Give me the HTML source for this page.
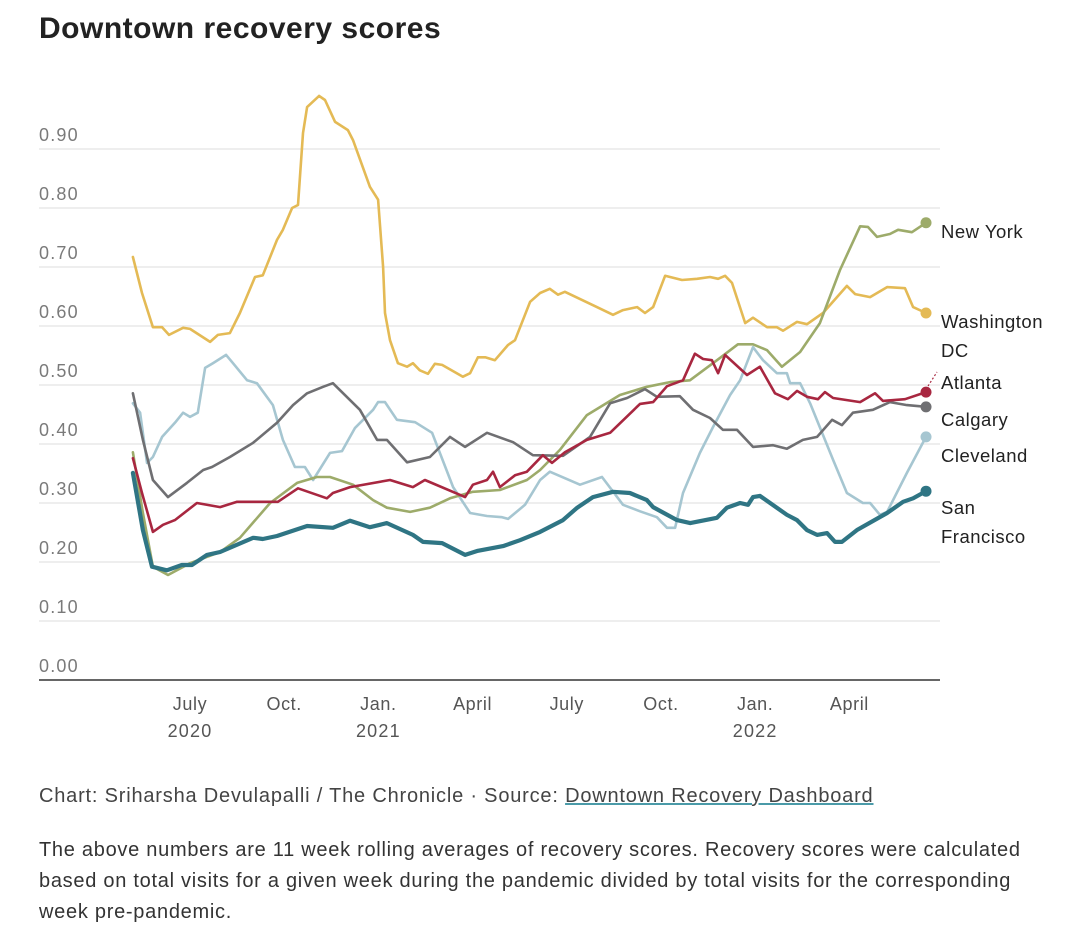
<!DOCTYPE html>
<html><head><meta charset="utf-8">
<style>
body{margin:0;background:#fff;width:1080px;height:952px;overflow:hidden;font-family:"Liberation Sans",sans-serif;}
svg{position:absolute;left:0;top:0}
.foot{position:absolute;left:39px;color:#333;font-size:20px;line-height:31px;white-space:nowrap;}
</style></head>
<body>
<svg id="chart" width="1080" height="952">
<text x="39" y="38" font-size="30" font-weight="bold" fill="#222" letter-spacing="0.5">Downtown recovery scores</text>
<g id="grid"></g>
<g id="xaxis"></g>
<g id="lines"></g>
<g id="labels"></g>
</svg>
<div class="foot" style="top:781px;color:#444;letter-spacing:0.8px">Chart: Sriharsha Devulapalli / The Chronicle · Source: <span style="text-decoration:underline;text-decoration-color:#4a9aa8">Downtown Recovery Dashboard</span></div>
<div class="foot" style="top:835px;letter-spacing:0.72px">The above numbers are 11 week rolling averages of recovery scores. Recovery scores were calculated<br>based on total visits for a given week during the pandemic divided by total visits for the corresponding<br>week pre-pandemic.</div>
<script>
// x values are months since Jan 1 2020
const yTicks=[0,0.1,0.2,0.3,0.4,0.5,0.6,0.7,0.8,0.9];
const xTickMonths=[6,9,12,15,18,21,24,27];
const xTickLabels=["July","Oct.","Jan.","April","July","Oct.","Jan.","April"];
const xTickYears=["2020","","2021","","","","2022",""];

const dcDates=[4.18,4.47,4.82,5.11,5.33,5.78,6.0,6.64,6.89,7.27,7.59,8.07,8.32,8.77,8.96,9.25,9.44,9.60,9.73,10.11,10.30,10.62,11.03,11.19,11.73,11.99,12.15,12.21,12.37,12.62,12.91,13.10,13.32,13.58,13.80,14.03,14.69,14.92,15.17,15.40,15.71,16.13,16.35,16.83,17.15,17.46,17.72,17.94,18.96,19.47,19.79,20.24,20.49,20.75,21.13,21.67,22.15,22.56,22.82,23.04,23.26,23.68,23.93,24.38,24.69,24.89,25.33,25.65,26.16,26.92,27.18,27.66,28.20,28.77,29.03,29.44];
const dcValues=[0.717,0.656,0.598,0.598,0.585,0.597,0.595,0.573,0.585,0.588,0.622,0.683,0.686,0.746,0.763,0.800,0.805,0.927,0.971,0.990,0.983,0.946,0.932,0.915,0.836,0.814,0.700,0.622,0.576,0.537,0.531,0.537,0.525,0.519,0.536,0.534,0.514,0.520,0.547,0.547,0.542,0.568,0.576,0.641,0.656,0.663,0.653,0.658,0.632,0.619,0.627,0.632,0.622,0.632,0.685,0.678,0.680,0.683,0.680,0.685,0.673,0.605,0.614,0.598,0.598,0.592,0.607,0.603,0.622,0.668,0.654,0.649,0.666,0.664,0.632,0.622];

const sfDates=[4.18,4.50,4.79,5.26,5.74,6.06,6.54,6.96,8.01,8.32,8.77,9.73,10.55,11.10,11.73,12.27,13.10,13.42,14.03,14.76,15.17,15.97,16.51,17.15,17.88,18.33,18.83,19.47,20.01,20.55,20.75,21.51,21.93,22.78,23.10,23.52,23.77,23.93,24.15,25.01,25.33,25.65,25.97,26.29,26.54,26.76,27.24,28.20,28.71,29.03,29.44];
const sfValues=[0.351,0.254,0.192,0.186,0.195,0.195,0.212,0.217,0.241,0.239,0.244,0.261,0.258,0.270,0.259,0.266,0.246,0.234,0.232,0.212,0.219,0.227,0.237,0.251,0.271,0.292,0.310,0.319,0.317,0.305,0.293,0.271,0.266,0.275,0.292,0.300,0.297,0.310,0.312,0.280,0.271,0.254,0.246,0.249,0.234,0.234,0.254,0.283,0.302,0.308,0.320];

const calDates=[4.18,4.50,4.82,5.30,5.90,6.42,6.70,7.27,8.01,8.77,9.28,9.73,10.24,10.55,11.41,11.96,12.27,12.91,13.64,14.28,14.76,15.46,16.29,16.92,17.88,18.74,19.38,19.92,20.49,20.87,21.60,22.02,22.56,22.97,23.42,23.93,24.57,25.01,25.52,25.97,26.45,26.76,27.11,27.75,28.29,28.83,29.44];
const calValues=[0.486,0.407,0.339,0.310,0.334,0.356,0.361,0.378,0.402,0.436,0.466,0.486,0.497,0.503,0.458,0.407,0.407,0.369,0.378,0.412,0.395,0.419,0.403,0.381,0.380,0.412,0.469,0.478,0.493,0.480,0.481,0.458,0.444,0.424,0.424,0.395,0.398,0.392,0.407,0.412,0.441,0.432,0.453,0.458,0.471,0.466,0.463];

const atlDates=[4.18,4.47,4.82,5.14,5.52,6.22,6.96,7.50,8.80,9.44,10.36,10.55,11.10,12.37,13.10,13.48,14.76,15.01,15.46,15.65,15.87,16.35,16.73,17.24,17.53,17.94,18.64,19.38,20.33,20.75,21.19,21.70,22.08,22.34,22.62,22.82,23.04,23.74,24.15,24.63,25.04,25.33,25.65,26.00,26.22,26.48,27.34,27.82,28.07,28.77,29.44];
const atlValues=[0.376,0.317,0.251,0.263,0.271,0.300,0.293,0.302,0.302,0.325,0.308,0.317,0.327,0.339,0.327,0.339,0.310,0.331,0.339,0.353,0.327,0.347,0.353,0.381,0.368,0.386,0.407,0.419,0.468,0.471,0.498,0.508,0.553,0.544,0.542,0.520,0.551,0.517,0.531,0.486,0.476,0.490,0.480,0.476,0.488,0.478,0.471,0.486,0.473,0.476,0.488];

const nyDates=[4.18,4.50,4.82,5.30,6.00,6.96,7.59,8.55,9.41,10.04,10.46,11.19,11.83,12.27,13.01,13.64,14.28,15.01,15.87,16.73,17.15,17.78,18.64,19.69,20.55,21.29,21.92,22.88,23.45,23.93,24.38,24.85,25.43,26.06,26.70,27.34,27.59,27.88,28.29,28.55,28.99,29.44];
const nyValues=[0.386,0.283,0.192,0.178,0.198,0.217,0.241,0.300,0.334,0.344,0.344,0.331,0.305,0.292,0.285,0.292,0.308,0.319,0.322,0.339,0.356,0.390,0.449,0.483,0.497,0.505,0.508,0.546,0.569,0.569,0.559,0.531,0.556,0.605,0.695,0.769,0.768,0.751,0.756,0.763,0.759,0.775];

const clvDates=[4.18,4.41,4.63,4.82,5.11,5.52,5.78,6.00,6.25,6.48,6.73,7.15,7.37,7.82,8.13,8.64,8.96,9.34,9.66,9.92,10.46,10.84,11.25,11.83,11.99,12.21,12.59,13.17,13.71,14.38,14.92,15.46,15.94,16.13,16.67,17.15,17.46,18.42,19.12,19.79,20.33,20.87,21.19,21.45,21.70,22.24,22.66,23.20,23.52,23.93,24.25,24.69,25.01,25.11,25.43,25.75,26.48,26.92,27.43,27.66,27.97,28.20,28.83,29.44];
const clvValues=[0.469,0.453,0.368,0.378,0.412,0.436,0.453,0.446,0.453,0.529,0.537,0.551,0.537,0.508,0.503,0.466,0.407,0.361,0.361,0.339,0.385,0.388,0.427,0.458,0.471,0.471,0.441,0.437,0.419,0.327,0.283,0.278,0.276,0.273,0.297,0.339,0.353,0.331,0.344,0.297,0.286,0.276,0.258,0.258,0.317,0.385,0.429,0.483,0.508,0.564,0.542,0.520,0.520,0.503,0.503,0.469,0.373,0.317,0.300,0.300,0.280,0.285,0.351,0.412];

const seriesNames=["New York","Washington DC","Atlanta","Calgary","Cleveland","San Francisco"];

const NS="http://www.w3.org/2000/svg";
const xS=m=>1.6+m*31.4;
const yS=v=>680-v*590;
function mk(tag,attrs,parent){const e=document.createElementNS(NS,tag);for(const k in attrs)e.setAttribute(k,attrs[k]);parent.appendChild(e);return e;}

const grid=document.getElementById('grid');
yTicks.forEach((t,i)=>{
  const y=yS(t);
  const ln=mk('line',{x1:39,x2:940,y1:y,y2:y,stroke:t===0?'#333':'#e3e3e3','stroke-width':t===0?1.5:1.2},grid);
  
  
  const tx=mk('text',{x:39,y:y-8,'font-size':18,fill:'#7a7a7a','letter-spacing':'1.2'},grid);
  tx.textContent=t.toFixed(2);
  
  
});
const xa=document.getElementById('xaxis');
xTickMonths.forEach((m,i)=>{
  const t=mk('text',{x:xS(m),y:710,'font-size':18,fill:'#555','text-anchor':'middle','letter-spacing':'0.6'},xa);
  t.textContent=xTickLabels[i];
  
  
  if(xTickYears[i]){
    const ty=mk('text',{x:xS(m),y:737,'font-size':18,fill:'#555','text-anchor':'middle','letter-spacing':'1.2'},xa);
    ty.textContent=xTickYears[i];
    
    
  }
});

const series=[
 {d:clvDates,v:clvValues,c:'#a6c6d1',w:2.6,n:'cleveland'},
 {d:dcDates,v:dcValues,c:'#e4ba55',w:2.6,n:'washington-dc'},
 {d:nyDates,v:nyValues,c:'#9dab6a',w:2.6,n:'new-york'},
 {d:calDates,v:calValues,c:'#6f6f72',w:2.6,n:'calgary'},
 {d:atlDates,v:atlValues,c:'#a82740',w:2.6,n:'atlanta'},
 {d:sfDates,v:sfValues,c:'#2f7584',w:4.2,n:'san-francisco'}
];
const lg=document.getElementById('lines');
series.forEach(s=>{
  const pts=s.d.map((m,i)=>xS(m).toFixed(1)+','+yS(s.v[i]).toFixed(1)).join(' ');
  const p=mk('polyline',{points:pts,fill:'none',stroke:s.c,'stroke-width':s.w,'stroke-linejoin':'round','stroke-linecap':'round'},lg);
  
  
  const last=s.d.length-1;
  const c=mk('circle',{cx:xS(s.d[last]),cy:yS(s.v[last]),r:5.5,fill:s.c},lg);
  
  
});
const ld=mk('line',{x1:xS(29.44)+2,y1:yS(atlValues[atlValues.length-1])-6,x2:937,y2:372,stroke:'#a82740','stroke-width':1.2,'stroke-dasharray':'2,2'},lg);



const lab=document.getElementById('labels');
const labelLines=[["New York"],["Washington","DC"],["Atlanta"],["Calgary"],["Cleveland"],["San","Francisco"]];
const labelY=[238,328,389,426,462,514];
labelLines.forEach((ls,i)=>{
  ls.forEach((t,j)=>{
    const e=mk('text',{x:941,y:labelY[i]+j*29,'font-size':18.5,fill:'#222','letter-spacing':'0.5'},lab);
    e.textContent=t;
    
    
  });
});
</script>
</body></html>
